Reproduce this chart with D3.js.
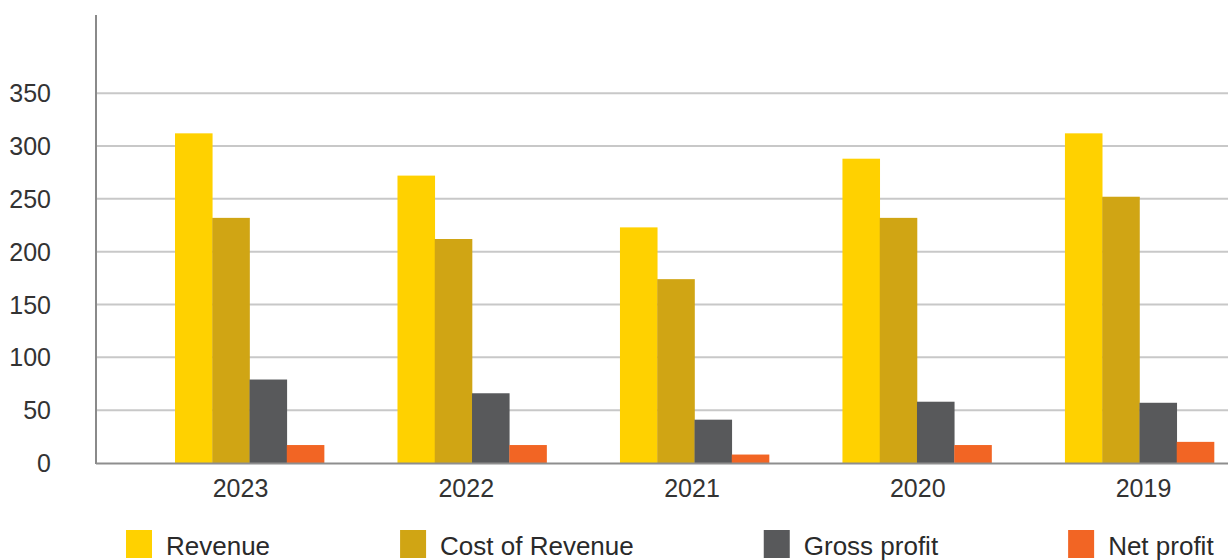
<!DOCTYPE html>
<html>
<head>
<meta charset="utf-8">
<script src="https://cdn.jsdelivr.net/npm/d3@7/dist/d3.min.js"></script>
<style>
  html, body { margin: 0; padding: 0; background: #ffffff; }
  svg { display: block; }
  text { font-family: "Liberation Sans", Arial, Helvetica, sans-serif; fill: #333333; }
</style>
</head>
<body>
<svg id="chart" width="1231" height="560"></svg>
<script>
// ---- Data ----
const years = ["2023", "2022", "2021", "2020", "2019"];
const seriesNames = ["Revenue", "Cost of Revenue", "Gross profit", "Net profit"];
const revenue       = [312, 272, 223, 288, 312];
const costOfRevenue = [232, 212, 174, 232, 252];
const grossProfit   = [79, 66, 41, 58, 57];
const netProfit     = [17, 17, 8, 17, 20];
const yTicks = [0, 50, 100, 150, 200, 250, 300, 350];
const seriesColors = ["#FFD100", "#D0A514", "#58595B", "#F26524"];

const seriesValues = [revenue, costOfRevenue, grossProfit, netProfit];
const rows = years.map((yr, i) => ({
  year: yr,
  values: seriesNames.map((s, j) => ({ key: s, value: seriesValues[j][i] }))
}));

// ---- Layout ----
const svg = d3.select("#chart");
const axisX = 96, plotRight = 1228;
const y = d3.scaleLinear().domain([0, 424]).range([463, 15]);

const x0 = d3.scaleBand().domain(years).range([175, 1214]).paddingInner(0.33).paddingOuter(0);
const x1 = d3.scaleBand().domain(seriesNames).range([0, x0.bandwidth()]).padding(0);
const xLabel = d3.scalePoint().domain(years).range([240.5, 1143.5]);
const color = d3.scaleOrdinal().domain(seriesNames).range(seriesColors);

// gridlines
svg.append("g").selectAll("line")
  .data(yTicks.filter(d => d > 0))
  .join("line")
  .attr("x1", axisX).attr("x2", plotRight)
  .attr("y1", d => y(d)).attr("y2", d => y(d))
  .attr("stroke", "#c8c8c8").attr("stroke-width", 2);

// y tick labels
svg.append("g").selectAll("text")
  .data(yTicks)
  .join("text")
  .attr("x", 51).attr("y", d => y(d))
  .attr("dy", "0.36em")
  .attr("text-anchor", "end")
  .style("font-size", "25px")
  .text(d => d);

// bars
const groups = svg.append("g").selectAll("g")
  .data(rows)
  .join("g")
  .attr("transform", d => `translate(${x0(d.year)},0)`);

groups.selectAll("rect")
  .data(d => d.values)
  .join("rect")
  .attr("x", d => x1(d.key))
  .attr("width", x1.bandwidth() + 0.3)
  .attr("y", d => y(d.value))
  .attr("height", d => y(0) - y(d.value))
  .attr("fill", d => color(d.key));

// axes lines
svg.append("line")
  .attr("x1", axisX).attr("x2", axisX)
  .attr("y1", y.range()[1]).attr("y2", y(0) + 1)
  .attr("stroke", "#8a8a8a").attr("stroke-width", 2);
svg.append("line")
  .attr("x1", axisX).attr("x2", plotRight)
  .attr("y1", y(0) + 0.5).attr("y2", y(0) + 0.5)
  .attr("stroke", "#8e8e8e").attr("stroke-width", 2);

// x labels
svg.append("g").selectAll("text")
  .data(years)
  .join("text")
  .attr("x", d => xLabel(d)).attr("y", 497)
  .attr("text-anchor", "middle")
  .style("font-size", "25px")
  .text(d => d);

// legend (sequential layout)
const legend = svg.append("g");
let lx = 126;
const gap = 130;
seriesNames.forEach(name => {
  const item = legend.append("g");
  item.append("rect")
    .attr("x", lx).attr("y", 530)
    .attr("width", 26).attr("height", 28)
    .attr("fill", color(name));
  const t = item.append("text")
    .attr("x", lx + 40).attr("y", 555)
    .style("font-size", "26px")
    .style("fill", "#2a2a2a")
    .text(name);
  lx = lx + 40 + t.node().getComputedTextLength() + gap;
});
</script>
</body>
</html>
